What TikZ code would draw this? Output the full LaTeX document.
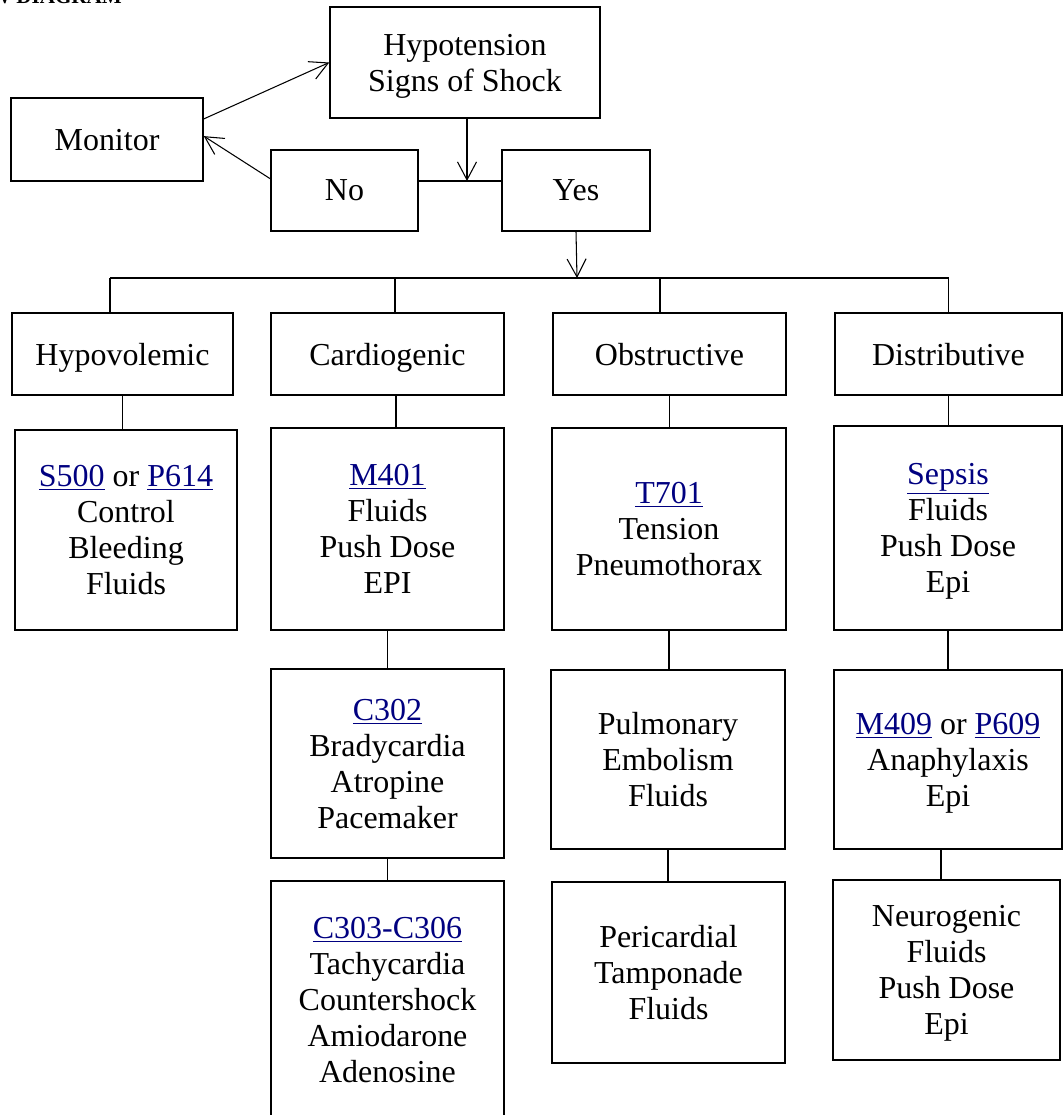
\documentclass[tikz,border=0pt]{standalone}
\usepackage{fontspec}
\setmainfont{Liberation Serif}
\usetikzlibrary{arrows.meta}
\definecolor{linkblue}{RGB}{0,0,128}
\newcommand{\lnk}[1]{{\color{linkblue}\underline{#1}}}

\begin{document}
\begin{tikzpicture}[x=0.02cm, y=-0.02cm,
		box/.style={draw, line width=0.9pt, inner sep=0pt, align=center, text depth=0pt, font=\fontsize{18.2pt}{20.5pt}\selectfont},
		cat/.style={box, minimum height=1.64cm},
		wire/.style={line width=0.6pt},
		arr/.style={wire, -{Straight Barb[length=3.6mm, width=3.8mm]}}
		]
	\useasboundingbox (0,0) rectangle (1063,1115);
	\clip (0,0) rectangle (1063,1115);
	\node [anchor=base east, font=\bfseries\fontsize{12pt}{12pt}\selectfont] (title) at (128,4) {W DIAGRAM};
	% top part
	\node [box, minimum width=5.4cm, minimum height=2.22cm] (hypot) at (465,62.5) {Hypotension\\Signs of Shock};
	\node [box, minimum width=3.84cm, minimum height=1.66cm] (mon) at (107,139.5) {Monitor};
	\node [box, minimum width=2.94cm, minimum height=1.62cm] (no) at (344.5,190.5) {No};
	\node [box, minimum width=2.96cm, minimum height=1.62cm] (yes) at (576,190.5) {Yes};
	% types of shock
	\node [cat, minimum width=4.42cm] (hypo) at (122.5,354) {Hypovolemic};
	\node [cat, minimum width=4.66cm] (card) at (387.5,354) {Cardiogenic};
	\node [cat, minimum width=4.66cm] (obst) at (669.5,354) {Obstructive};
	\node [cat, minimum width=4.54cm] (dist) at (948.5,354) {Distributive};
	% treatments
	\node [box, minimum width=4.44cm, minimum height=4cm] (hypoA) at (126,530) {\lnk{S500} or \lnk{P614}\\Control\\Bleeding\\Fluids};
	\node [box, minimum width=4.66cm, minimum height=4.04cm] (cardA) at (387.5,529) {\lnk{M401}\\Fluids\\Push Dose\\EPI};
	\node [box, minimum width=4.68cm, minimum height=4.04cm] (obstA) at (669,529) {\lnk{T701}\\Tension\\Pneumothorax};
	\node [box, minimum width=4.56cm, minimum height=4.08cm] (distA) at (948,528) {\lnk{Sepsis}\\Fluids\\Push Dose\\Epi};
	\node [box, minimum width=4.66cm, minimum height=3.78cm] (cardB) at (387.5,763.5) {\lnk{C302}\\Bradycardia\\Atropine\\Pacemaker};
	\node [box, minimum width=4.68cm, minimum height=3.58cm] (obstB) at (668,759.5) {Pulmonary\\Embolism\\Fluids};
	\node [box, minimum width=4.56cm, minimum height=3.58cm] (distB) at (948,759.5) {\lnk{M409} or \lnk{P609}\\Anaphylaxis\\Epi};
	\node [box, minimum width=4.66cm, minimum height=4.74cm] (cardC) at (387.5,999.5) {\lnk{C303-C306}\\Tachycardia\\Countershock\\Amiodarone\\Adenosine};
	\node [box, minimum width=4.66cm, minimum height=3.62cm] (obstC) at (668.5,972.5) {Pericardial\\Tamponade\\Fluids};
	\node [box, minimum width=4.54cm, minimum height=3.6cm] (distC) at (946.5,970) {Neurogenic\\Fluids\\Push Dose\\Epi};
	% connectors
	\coordinate (split) at (467,181);
	\coordinate (bus) at (577,278);
	\draw [arr] (mon.12.6) -- (hypot.west);
	\draw [arr] (no.171.9) -- (mon.2.7);
	\draw [wire] (no.east |- split) -- (yes.west |- split);
	\draw [arr] (hypot.south -| split) -- (split);
	\draw [arr] (yes.south) -- (bus);
	\draw [wire] ([xshift=-0.25cm]hypo.north |- bus) -- (dist.north |- bus);
	\draw [wire] ([xshift=-0.25cm]hypo.north) -- ([xshift=-0.25cm]hypo.north |- bus);
	\draw [wire] ([xshift=0.15cm]card.north) -- ([xshift=0.15cm]card.north |- bus);
	\draw [wire] ([xshift=-0.19cm]obst.north) -- ([xshift=-0.19cm]obst.north |- bus);
	\draw [wire] (dist.north) -- (dist.north |- bus);
	\draw [wire] (hypo.south) -- (hypo.south |- hypoA.north);
	\draw [wire] ([xshift=0.17cm]card.south) -- ([xshift=0.17cm]card.south |- cardA.north);
	\draw [wire] (obst.south) -- (obst.south |- obstA.north);
	\draw [wire] (dist.south) -- (dist.south |- distA.north);
	\draw [wire] (cardA.south) -- (cardB.north);
	\draw [wire] (obstA.south) -- (obstA.south |- obstB.north);
	\draw [wire] (distA.south) -- (distA.south |- distB.north);
	\draw [wire] (cardB.south) -- (cardC.north);
	\draw [wire] (obstB.south) -- (obstB.south |- obstC.north);
	\draw [wire] ([xshift=-0.14cm]distB.south) -- ([xshift=-0.14cm]distB.south |- distC.north);
\end{tikzpicture}
\end{document}
